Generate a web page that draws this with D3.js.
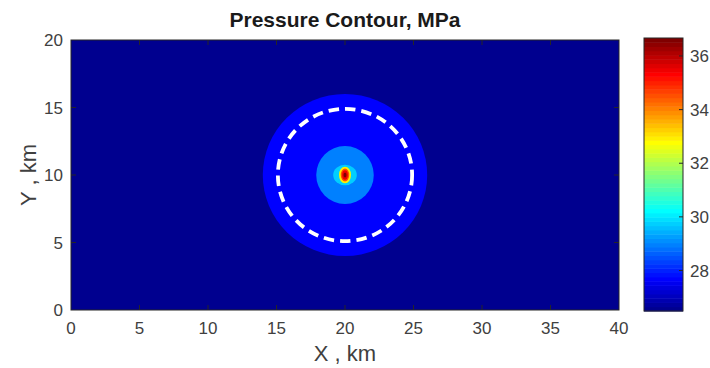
<!DOCTYPE html>
<html>
<head>
<meta charset="utf-8">
<script src="https://cdn.jsdelivr.net/npm/d3@7"></script>
<style>
  html, body { margin: 0; padding: 0; background: #fff; }
  svg { display: block; font-family: "Liberation Sans", Arial, Helvetica, sans-serif; }
</style>
</head>
<body>
<svg id="chart" width="710" height="368"></svg>
<script>
// Pressure field: concentric contour bands around the well at (20, 10) km
const wellX = 20;
const wellY = 10;
const bandRadiusX = [6.0, 2.1, 0.86, 0.44, 0.31, 0.21, 0.11];   // km
const bandRadiusY = [6.0, 2.15, 0.76, 0.62, 0.48, 0.35, 0.19];  // km
const bandPressure = [27.7, 29.0, 29.7, 33.0, 34.5, 35.4, 36.6]; // MPa
const backgroundPressure = 26.5;                                  // MPa

// Reference radius of the dashed ring (km)
const ringRadius = 4.9;

// Axis ticks and colour range
const xTicks = [0, 5, 10, 15, 20, 25, 30, 35, 40];
const yTicks = [0, 5, 10, 15, 20];
const colorTicks = [28, 30, 32, 34, 36];
const colorDomain = [26.49, 36.67];

const svg = d3.select("#chart");
const margin = { left: 71, right: 619, top: 40, bottom: 310 };

const x = d3.scaleLinear().domain([0, 40]).range([margin.left, margin.right]);
const y = d3.scaleLinear().domain([0, 20]).range([margin.bottom, margin.top]);

// MATLAB-style jet colormap with 64 discrete entries
function jetU(j) {
  if (j >= 1 && j <= 16) return j / 16;
  if (j >= 17 && j <= 31) return 1;
  if (j >= 32 && j <= 47) return (48 - j) / 16;
  return 0;
}
const jet64 = d3.range(64).map(i => {
  const k = i + 1;
  return d3.rgb(255 * jetU(k - 24), 255 * jetU(k - 8), 255 * jetU(k + 8)).formatHex();
});
const colorIndex = d3.scaleQuantize().domain(colorDomain).range(d3.range(64));
const color = v => jet64[colorIndex(Math.max(colorDomain[0], Math.min(colorDomain[1], v)))];

// Clip region for the map
const defs = svg.append("defs");
defs.append("clipPath").attr("id", "plotClip")
  .append("rect")
  .attr("x", margin.left).attr("y", margin.top)
  .attr("width", margin.right - margin.left).attr("height", margin.bottom - margin.top);

const blur = defs.append("filter").attr("id", "soft")
  .attr("x", "-50%").attr("y", "-50%").attr("width", "200%").attr("height", "200%");
blur.append("feGaussianBlur").attr("stdDeviation", 0.6);

const plot = svg.append("g").attr("clip-path", "url(#plotClip)");

plot.append("rect")
  .attr("x", margin.left).attr("y", margin.top)
  .attr("width", margin.right - margin.left).attr("height", margin.bottom - margin.top)
  .attr("fill", color(backgroundPressure));

const bands = bandPressure.map((p, i) => ({ p, rx: bandRadiusX[i], ry: bandRadiusY[i], i }));

// Two broad outer bands drawn crisp, the small core softened slightly
plot.selectAll("ellipse.outer")
  .data(bands.slice(0, 2))
  .join("ellipse")
  .attr("class", "outer")
  .attr("cx", x(wellX)).attr("cy", y(wellY))
  .attr("rx", d => x(d.rx) - x(0))
  .attr("ry", d => y(0) - y(d.ry))
  .attr("fill", d => color(d.p));

plot.append("g").attr("filter", "url(#soft)")
  .selectAll("ellipse")
  .data(bands.slice(2))
  .join("ellipse")
  .attr("cx", x(wellX)).attr("cy", y(wellY))
  .attr("rx", d => x(d.rx) - x(0))
  .attr("ry", d => y(0) - y(d.ry))
  .attr("fill", d => color(d.p));

// Dashed ring
plot.append("ellipse")
  .attr("cx", x(wellX)).attr("cy", y(wellY))
  .attr("rx", x(ringRadius) - x(0))
  .attr("ry", y(0) - y(ringRadius))
  .attr("fill", "none")
  .attr("stroke", "#fff")
  .attr("stroke-width", 3.8)
  .attr("stroke-dasharray", "10.5,6");

// Axes box with inward ticks on all sides
const axisColor = "#262626";
const labelColor = "#404040";
const tickLen = 5;

const frame = svg.append("g");
frame.append("rect")
  .attr("x", margin.left).attr("y", margin.top)
  .attr("width", margin.right - margin.left).attr("height", margin.bottom - margin.top)
  .attr("fill", "none").attr("stroke", axisColor).attr("stroke-width", 1);

const xInner = xTicks.filter(t => t > 0 && t < 40);
frame.selectAll("line.xb").data(xInner).join("line")
  .attr("x1", d => x(d)).attr("x2", d => x(d))
  .attr("y1", margin.bottom).attr("y2", margin.bottom - tickLen)
  .attr("stroke", axisColor);
frame.selectAll("line.xt").data(xInner).join("line")
  .attr("x1", d => x(d)).attr("x2", d => x(d))
  .attr("y1", margin.top).attr("y2", margin.top + tickLen)
  .attr("stroke", axisColor);
const yInner = yTicks.filter(t => t > 0 && t < 20);
frame.selectAll("line.yl").data(yInner).join("line")
  .attr("x1", margin.left).attr("x2", margin.left + tickLen)
  .attr("y1", d => y(d)).attr("y2", d => y(d))
  .attr("stroke", axisColor);
frame.selectAll("line.yr").data(yInner).join("line")
  .attr("x1", margin.right).attr("x2", margin.right - tickLen)
  .attr("y1", d => y(d)).attr("y2", d => y(d))
  .attr("stroke", axisColor);

const tickFont = 17;

svg.append("g").selectAll("text").data(xTicks).join("text")
  .attr("x", d => x(d)).attr("y", 334)
  .attr("text-anchor", "middle")
  .attr("font-size", tickFont).attr("fill", labelColor)
  .text(d => d);

svg.append("g").selectAll("text").data(yTicks).join("text")
  .attr("x", 63).attr("y", d => y(d) + 6)
  .attr("text-anchor", "end")
  .attr("font-size", tickFont).attr("fill", labelColor)
  .text(d => d);

svg.append("text")
  .attr("x", x(20)).attr("y", 361)
  .attr("text-anchor", "middle")
  .attr("font-size", 22).attr("fill", labelColor)
  .text("X , km");

svg.append("text")
  .attr("transform", `translate(36, ${y(10)}) rotate(-90)`)
  .attr("text-anchor", "middle")
  .attr("font-size", 22).attr("fill", labelColor)
  .text("Y , km");

svg.append("text")
  .attr("x", x(20)).attr("y", 27)
  .attr("text-anchor", "middle")
  .attr("font-size", 21).attr("font-weight", "bold").attr("fill", "#1a1a1a")
  .text("Pressure Contour, MPa");

// Colorbar
const cb = { left: 644, right: 683, top: 38, bottom: 311 };
const cy = d3.scaleLinear().domain(colorDomain).range([cb.bottom, cb.top]);
const step = (colorDomain[1] - colorDomain[0]) / 64;
const cbg = svg.append("g");
cbg.selectAll("rect.sw").data(jet64).join("rect")
  .attr("class", "sw")
  .attr("x", cb.left)
  .attr("y", (d, i) => cy(colorDomain[0] + (i + 1) * step))
  .attr("width", cb.right - cb.left)
  .attr("height", (d, i) => cy(colorDomain[0] + i * step) - cy(colorDomain[0] + (i + 1) * step) + 0.5)
  .attr("fill", d => d);
cbg.append("rect")
  .attr("x", cb.left).attr("y", cb.top)
  .attr("width", cb.right - cb.left).attr("height", cb.bottom - cb.top)
  .attr("fill", "none").attr("stroke", axisColor).attr("stroke-width", 1);
cbg.selectAll("line.ct").data(colorTicks).join("line")
  .attr("x1", cb.right).attr("x2", cb.right - 4)
  .attr("y1", d => cy(d)).attr("y2", d => cy(d))
  .attr("stroke", axisColor);
cbg.selectAll("text").data(colorTicks).join("text")
  .attr("x", cb.right + 7).attr("y", d => cy(d) + 6)
  .attr("font-size", tickFont).attr("fill", labelColor)
  .text(d => d);
</script>
</body>
</html>
